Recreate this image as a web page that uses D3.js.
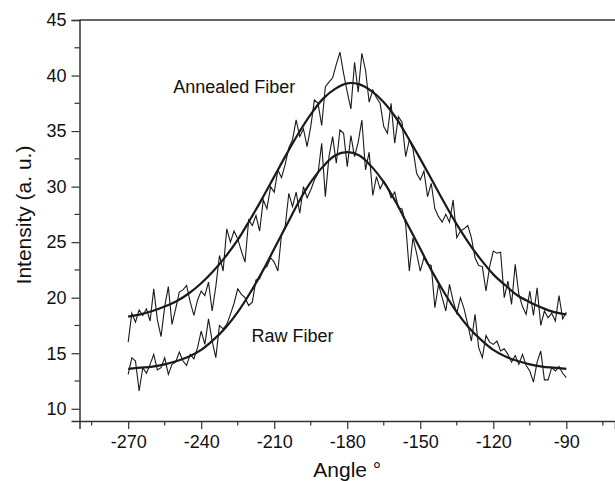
<!DOCTYPE html>
<html>
<head>
<meta charset="utf-8">
<script src="https://cdn.jsdelivr.net/npm/d3@7"></script>
<style>
  html, body { margin: 0; padding: 0; background: #fff; }
  svg { display: block; }
  text { font-family: "Liberation Sans", Arial, sans-serif; fill: #111; }
</style>
</head>
<body>
<svg id="chart" width="615" height="481"></svg>
<script>
// ---- data ----
const xTicks = [-270, -240, -210, -180, -150, -120, -90];
const yTicks = [10, 15, 20, 25, 30, 35, 40, 45];
const xDomain = [-290, -70];
const yDomain = [8.9, 45];

// measured angles: -270 .. -90 every 1.5 degrees
const measuredAngles = d3.range(-270, -89.9, 1.5);
const annealedMeasured = [
  16.0, 18.6, 17.8, 18.9, 18.4, 19.0, 17.9, 20.8, 18.0, 16.5,
  19.2, 21.0, 17.6, 19.0, 20.5, 20.7, 21.1, 19.6, 18.4, 19.8,
  20.6, 20.2, 21.4, 18.8, 21.0, 23.8, 22.4, 26.2, 25.0, 26.0,
  25.3, 24.2, 23.2, 27.0, 26.5, 27.4, 26.0, 28.8, 28.0, 30.0,
  29.5, 31.5, 30.8, 32.0, 33.5, 34.2, 36.0, 34.5, 35.2, 33.6,
  35.4, 37.8, 37.5, 35.5, 39.0, 39.4, 39.8, 41.0, 42.1, 40.2,
  38.5, 37.0, 41.2, 38.5, 42.0, 40.5, 37.6, 38.7, 38.0, 37.5,
  35.4, 34.8, 37.5, 33.9, 36.3, 35.8, 32.7, 34.2, 33.4, 31.2,
  30.6, 31.4, 29.1, 30.3, 28.0, 27.3, 26.8, 27.5, 26.8, 28.8,
  25.4, 26.0, 26.2, 26.5, 25.4, 23.6, 22.9, 22.8, 20.6, 22.8,
  24.2, 24.0, 24.1, 20.0, 21.5, 19.4, 23.0, 20.3, 19.2, 18.5,
  20.6, 18.4, 20.9, 17.5, 18.8, 18.2, 18.6, 17.9, 20.2, 18.1,
  18.7
];
const rawMeasured = [
  13.1, 14.6, 14.3, 11.6, 13.7, 13.2, 14.0, 14.9, 13.5, 13.7,
  14.6, 13.1, 14.0, 14.2, 15.1, 14.3, 13.9, 14.9, 14.5, 15.5,
  17.0, 15.8, 18.1, 16.1, 14.6, 17.5, 17.2, 17.6, 18.5, 19.5,
  20.8, 20.3, 20.0, 19.3, 19.6, 21.6, 21.7, 22.6, 22.8, 23.6,
  23.2, 22.4, 25.7, 26.4, 29.4, 28.2, 29.5, 27.6, 30.0, 29.0,
  29.7, 30.6, 31.2, 33.9, 29.1, 32.7, 34.5, 32.1, 35.1, 34.8,
  31.8, 34.6, 32.7, 34.0, 36.0, 31.5, 33.1, 29.2, 30.9, 29.8,
  30.5, 30.0, 29.0, 29.5, 28.1, 28.0, 26.6, 22.4, 25.4, 24.0,
  22.4, 23.6, 23.0, 22.9, 19.1, 21.2, 20.0, 18.8, 21.2, 19.7,
  18.6, 20.0, 19.0, 17.6, 16.1, 18.5, 15.5, 14.6, 16.6, 16.0,
  15.8, 16.1, 15.2, 15.4, 14.9, 14.2, 14.8, 14.0, 14.9, 13.9,
  13.4, 12.4, 14.2, 15.2, 12.6, 12.6, 13.7, 13.4, 13.8, 13.2,
  12.8
];

// fitted curves: -270 .. -90 every 5 degrees
const fitAngles = d3.range(-270, -89.9, 5);
const annealedFit = [
  18.3, 18.5, 18.8, 19.2, 19.7, 20.4, 21.3, 22.4, 23.7, 25.2,
  27.0, 28.9, 30.9, 32.9, 34.8, 36.5, 37.9, 38.8, 39.3, 39.2,
  38.6, 37.6, 36.2, 34.4, 32.5, 30.5, 28.5, 26.6, 24.9, 23.4,
  22.1, 21.1, 20.2, 19.6, 19.1, 18.7, 18.5
];
const rawFit = [
  13.6, 13.7, 13.8, 14.0, 14.3, 14.7, 15.3, 16.2, 17.3, 18.7,
  20.4, 22.3, 24.4, 26.5, 28.6, 30.4, 31.8, 32.8, 33.1, 32.8,
  31.8, 30.4, 28.6, 26.5, 24.4, 22.3, 20.4, 18.7, 17.3, 16.2,
  15.3, 14.7, 14.3, 14.0, 13.8, 13.7, 13.6
];

const labels = [
  { text: "Annealed Fiber", angle: -251.5, value: 38.4 },
  { text: "Raw Fiber", angle: -219.3, value: 16.0 }
];

// ---- drawing ----
const svg = d3.select("#chart");
const pLeft = 79.5, pRight = 615, pTop = 20, pBottom = 421;
const x = d3.scaleLinear().domain(xDomain).range([pLeft, pRight]);
const y = d3.scaleLinear().domain(yDomain).range([pBottom, pTop]);

const axisColor = "#333";

// top border
svg.append("line")
  .attr("x1", pLeft).attr("x2", pRight)
  .attr("y1", pTop).attr("y2", pTop)
  .attr("stroke", axisColor).attr("stroke-width", 1.5);

// X axis
const xMinor = d3.range(-285, -70, 30);
const gx = svg.append("g").attr("transform", `translate(0,${pBottom})`);
gx.call(d3.axisBottom(x).tickValues(xTicks).tickSize(8).tickPadding(6)
  .tickFormat(d => d.toString()));
gx.select(".domain").attr("stroke", axisColor).attr("stroke-width", 1.5);
gx.selectAll(".tick line").attr("stroke", axisColor).attr("stroke-width", 1.2);
gx.selectAll(".tick text").attr("font-size", 18).attr("fill", "#111")
  .attr("font-family", "Liberation Sans, Arial, sans-serif");
gx.selectAll(".minor").data(xMinor).enter().append("line")
  .attr("class", "minor")
  .attr("x1", d => x(d)).attr("x2", d => x(d))
  .attr("y1", 0).attr("y2", 4.5)
  .attr("stroke", axisColor).attr("stroke-width", 1.2);

// Y axis
const yMinor = d3.range(12.5, 45, 5);
const gy = svg.append("g").attr("transform", `translate(${pLeft},0)`);
gy.call(d3.axisLeft(y).tickValues(yTicks).tickSize(8).tickPadding(5));
gy.select(".domain").attr("stroke", axisColor).attr("stroke-width", 1.5);
gy.selectAll(".tick line").attr("stroke", axisColor).attr("stroke-width", 1.2);
gy.selectAll(".tick text").attr("font-size", 18).attr("fill", "#111")
  .attr("font-family", "Liberation Sans, Arial, sans-serif");
gy.selectAll(".minor").data(yMinor).enter().append("line")
  .attr("class", "minor")
  .attr("x1", 0).attr("x2", -5)
  .attr("y1", d => y(d)).attr("y2", d => y(d))
  .attr("stroke", axisColor).attr("stroke-width", 1.2);

// axis titles
svg.append("text")
  .attr("x", x(-180)).attr("y", 477)
  .attr("text-anchor", "middle").attr("font-size", 21)
  .text("Angle °");
svg.append("text")
  .attr("transform", `translate(31,215) rotate(-90)`)
  .attr("text-anchor", "middle").attr("font-size", 21)
  .text("Intensity (a. u.)");

// measured lines
const line = d3.line().x(d => x(d[0])).y(d => y(d[1]));
[annealedMeasured, rawMeasured].forEach(vals => {
  svg.append("path")
    .datum(measuredAngles.map((a, i) => [a, vals[i]]))
    .attr("d", line)
    .attr("fill", "none").attr("stroke", "#1a1a1a")
    .attr("stroke-width", 1.1).attr("stroke-linejoin", "miter");
});

// fit curves
const fitLine = d3.line().curve(d3.curveCatmullRom.alpha(0.5))
  .x(d => x(d[0])).y(d => y(d[1]));
[annealedFit, rawFit].forEach(vals => {
  svg.append("path")
    .datum(fitAngles.map((a, i) => [a, vals[i]]))
    .attr("d", fitLine)
    .attr("fill", "none").attr("stroke", "#1a1a1a")
    .attr("stroke-width", 2.2);
});

// labels
svg.selectAll(".lbl").data(labels).enter().append("text")
  .attr("class", "lbl")
  .attr("x", d => x(d.angle)).attr("y", d => y(d.value))
  .attr("font-size", 18)
  .text(d => d.text);
</script>
</body>
</html>
